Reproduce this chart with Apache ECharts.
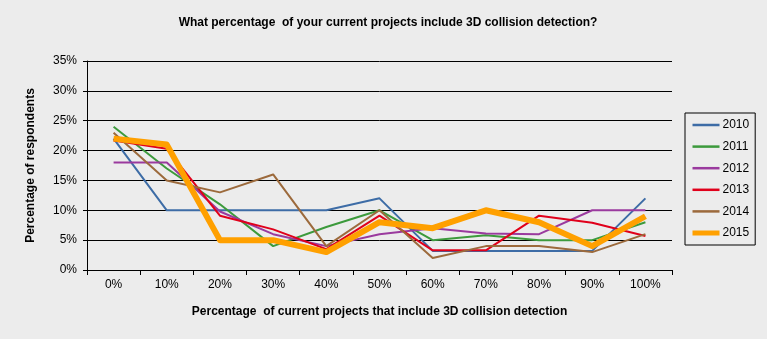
<!DOCTYPE html>
<html><head><meta charset="utf-8">
<script src="https://cdn.jsdelivr.net/npm/echarts@6/dist/echarts.min.js"></script>
<style>html,body{margin:0;padding:0;background:#ececec;}#c{width:767px;height:339px;}</style>
</head><body><div id="c"></div>
<script>
const categories = ['0%','10%','20%','30%','40%','50%','60%','70%','80%','90%','100%'];
const s2010 = [22, 10, 10, 10, 10, 12, 3.2, 3.2, 3.2, 3.2, 12];
const s2011 = [24, 17, 11, 4, 7.2, 10, 5, 5.8, 5, 5, 8];
const s2012 = [18, 18, 9.8, 6, 4, 6, 7, 6.1, 6, 10, 10];
const s2013 = [21.7, 20.3, 9.1, 6.8, 3.5, 9.1, 3.3, 3.3, 9.1, 7.9, 5.7];
const s2014 = [23, 15, 13, 16, 4, 10, 2, 4, 4, 3, 6];
const s2015 = [22, 21, 5, 5, 3, 8, 7, 10, 8, 4, 9];
const seriesNames = ['2010','2011','2012','2013','2014','2015'];
const yTicks = [0, 5, 10, 15, 20, 25, 30, 35];

const colors = ['#3d6ca6','#3c9a3c','#9a3a9e','#e0001b','#9c6a3c','#ffa000'];
const widths = [2, 2, 2, 2, 2, 6];
const data = [s2010, s2011, s2012, s2013, s2014, s2015];

const chart = echarts.init(document.getElementById('c'));
const font = 'Arial, "Liberation Sans", sans-serif';
chart.setOption({
  backgroundColor: '#ececec',
  animation: false,
  title: {
    text: 'What percentage  of your current projects include 3D collision detection?',
    left: 383, top: 12, textAlign: 'center',
    textStyle: {fontFamily: font, fontSize: 12, fontWeight: 'bold', color: '#000'}
  },
  grid: {left: 87, right: 95, top: 61, bottom: 69, containLabel: false},
  legend: {
    orient: 'vertical', left: 685, top: 113,
    borderColor: '#000', borderWidth: 1, borderRadius: 0,
    padding: [6, 6, 6, 5],
    itemWidth: 27, itemHeight: 14, itemGap: 9.6,
    itemStyle: {opacity: 0},
    textStyle: {fontFamily: font, fontSize: 12, color: '#000', padding: [0,0,0,-2]},
    data: seriesNames.map((n, i) => ({name: n, lineStyle: {width: i === 5 ? 5 : 2.5, color: colors[i]}}))
  },
  xAxis: {
    type: 'category', data: categories, boundaryGap: true,
    name: 'Percentage  of current projects that include 3D collision detection',
    nameLocation: 'middle', nameGap: 36,
    nameTextStyle: {fontFamily: font, fontSize: 12, fontWeight: 'bold', color: '#000'},
    axisLine: {lineStyle: {color: '#000', width: 1}},
    axisTick: {show: true, length: 5, lineStyle: {color: '#000'}, alignWithLabel: false},
    axisLabel: {fontFamily: font, fontSize: 12, color: '#000', margin: 9}
  },
  yAxis: {
    type: 'value', min: 0, max: 35, interval: 5,
    name: 'Percentage of respondents',
    nameLocation: 'middle', nameGap: 50, nameRotate: 90,
    nameTextStyle: {fontFamily: font, fontSize: 12, fontWeight: 'bold', color: '#000'},
    axisLine: {show: true, lineStyle: {color: '#000', width: 1}},
    axisTick: {show: true, length: 4, inside: false, lineStyle: {color: '#000'}},
    axisLabel: {fontFamily: font, fontSize: 12, color: '#000', margin: 10,
      formatter: v => yTicks.includes(v) ? v + '%' : ''},
    splitLine: {show: true, lineStyle: {color: '#000', width: 1}}
  },
  series: data.map((d, i) => ({
    name: seriesNames[i], type: 'line', data: d, symbol: 'none',
    color: colors[i],
    lineStyle: {color: colors[i], width: widths[i], join: 'round'},
    z: i === 5 ? 10 : 2 + i
  }))
});
</script></body></html>
